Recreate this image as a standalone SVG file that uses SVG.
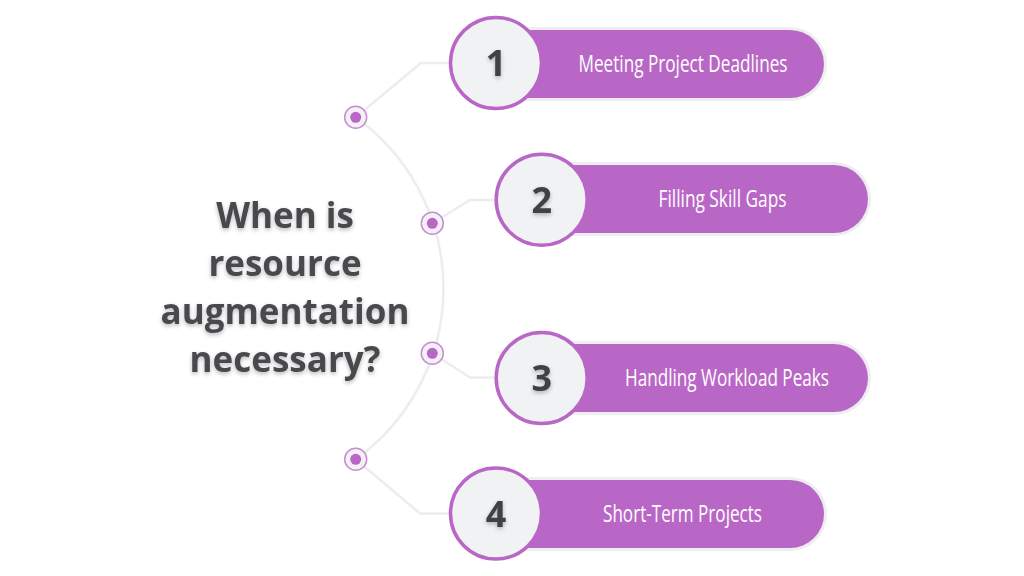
<svg xmlns="http://www.w3.org/2000/svg" width="1024" height="576" viewBox="0 0 1024 576">
<defs>
<filter id="ts" x="-20%" y="-20%" width="140%" height="160%">
<feDropShadow dx="0" dy="2" stdDeviation="2" flood-color="#000" flood-opacity="0.28"/>
</filter>
<style>
.line{fill:none;stroke:#ededef;stroke-width:2.5;stroke-linejoin:round}
.halo{fill:#eceef0}
.pill{fill:#b967c6}
.num{fill:#f1f2f3;stroke:#b967c6;stroke-width:3.5}
.ring{fill:#f3f1f5;stroke:#c88ed3;stroke-width:1.5}
.dot{fill:#b967c6}
.lbl{font-family:"Open Sans",sans-serif;font-size:23.5px;fill:#ffffff;text-anchor:middle}
.n{font-family:"Open Sans",sans-serif;font-weight:700;font-size:36px;fill:#414146;text-anchor:middle}
.title{font-family:"Open Sans",sans-serif;font-weight:700;font-size:35px;fill:#4a4a4e;text-anchor:middle}
</style>
</defs>
<rect width="1024" height="576" fill="#ffffff"/>
<g id="connectors">
<path class="line" d="M355.7,117.3 A210.5,210.5 0 0 1 355.7,459.3"/>
<polyline class="line" points="355.7,117.3 421,63 452,63"/>
<polyline class="line" points="432.3,223.3 470,200 497,200"/>
<polyline class="line" points="432.3,353.3 470,377.5 497,377.5"/>
<polyline class="line" points="355.7,459.3 420,513.5 452,513.5"/>
</g>
<g id="title" filter="url(#ts)">
<text class="title" x="285" y="228">When is</text>
<text class="title" x="285" y="276">resource</text>
<text class="title" x="285" y="324">augmentation</text>
<text class="title" x="285" y="372">necessary?</text>
</g>
<g id="dot1"><circle class="ring" cx="355.7" cy="117.3" r="11"/><circle class="dot" cx="355.7" cy="117.3" r="5.5"/></g>
<g id="dot2"><circle class="ring" cx="432.3" cy="223.3" r="11"/><circle class="dot" cx="432.3" cy="223.3" r="5.5"/></g>
<g id="dot3"><circle class="ring" cx="432.3" cy="353.3" r="11"/><circle class="dot" cx="432.3" cy="353.3" r="5.5"/></g>
<g id="dot4"><circle class="ring" cx="355.7" cy="459.3" r="11"/><circle class="dot" cx="355.7" cy="459.3" r="5.5"/></g>
<g id="node1">
<rect class="halo" x="478" y="27" width="349" height="74" rx="37"/>
<rect class="pill" x="480" y="30" width="344" height="68" rx="34"/>
<circle class="num" cx="496" cy="63" r="45.5"/>
<text class="n" x="496" y="76" filter="url(#ts)">1</text>
<text class="lbl" x="683" y="71.5" textLength="209" lengthAdjust="spacingAndGlyphs">Meeting Project Deadlines</text>
</g>
<g id="node2">
<rect class="halo" x="524" y="162" width="347" height="74" rx="37"/>
<rect class="pill" x="526" y="165" width="342" height="68" rx="34"/>
<circle class="num" cx="541.7" cy="199.7" r="45.5"/>
<text class="n" x="541.7" y="212.5" filter="url(#ts)">2</text>
<text class="lbl" x="722.5" y="207" textLength="128" lengthAdjust="spacingAndGlyphs">Filling Skill Gaps</text>
</g>
<g id="node3">
<rect class="halo" x="524" y="341" width="347" height="74" rx="37"/>
<rect class="pill" x="526" y="344" width="342" height="68" rx="34"/>
<circle class="num" cx="541.7" cy="378" r="45.5"/>
<text class="n" x="541.7" y="391" filter="url(#ts)">3</text>
<text class="lbl" x="727" y="385.5" textLength="204" lengthAdjust="spacingAndGlyphs">Handling Workload Peaks</text>
</g>
<g id="node4">
<rect class="halo" x="478" y="477" width="349" height="74" rx="37"/>
<rect class="pill" x="480" y="480" width="344" height="68" rx="34"/>
<circle class="num" cx="496" cy="513.5" r="45.5"/>
<text class="n" x="496" y="526.5" filter="url(#ts)">4</text>
<text class="lbl" x="682.5" y="522" textLength="159" lengthAdjust="spacingAndGlyphs">Short-Term Projects</text>
</g>
</svg>
